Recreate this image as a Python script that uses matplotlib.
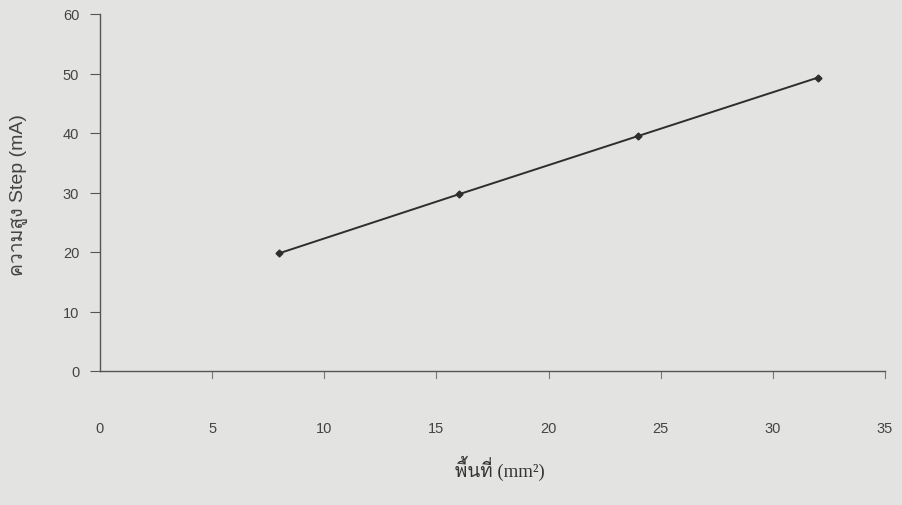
import matplotlib
matplotlib.use("Agg")
import matplotlib.pyplot as plt
from matplotlib import font_manager
from matplotlib.ft2font import FT2Font

area = [8, 16, 24, 32]
step_height = [19.8, 29.7, 39.5, 49.3]
x_ticks = [0, 5, 10, 15, 20, 25, 30, 35]
y_ticks = [0, 10, 20, 30, 40, 50, 60]


def thai_family():
    # find any installed font that can draw Thai
    for f in font_manager.fontManager.ttflist:
        try:
            if 0x0E04 in FT2Font(f.fname).get_charmap():
                return f.name
        except Exception:
            pass
    return None


thai = thai_family()
sans = ["Liberation Sans"] + ([thai] if thai else []) + ["DejaVu Sans"]
serif = ["Liberation Serif"] + ([thai] if thai else []) + ["DejaVu Serif"]

bg = "#e3e3e1"
fig = plt.figure(figsize=(9.02, 5.06), dpi=100, facecolor=bg)
ax = fig.add_axes([100 / 902, 134 / 506, 785 / 902, 357 / 506], facecolor=bg)

ax.plot(area, step_height, color="#2e2e2e", lw=1.4, marker="D", ms=3.5)

ax.set_xlim(0, 35)
ax.set_ylim(0, 60)
ax.set_xticks(x_ticks)
ax.set_yticks(y_ticks)

for side in ["top", "right"]:
    ax.spines[side].set_visible(False)
for side in ["left", "bottom"]:
    ax.spines[side].set_color("#555555")
    ax.spines[side].set_linewidth(1.0)

ax.tick_params(axis="x", direction="in", length=0, pad=36, labelsize=10.5,
               colors="#444444")
ax.tick_params(axis="y", direction="out", length=7, pad=8, labelsize=10.5,
               colors="#444444", color="#555555")
for t in ax.get_xticklabels() + ax.get_yticklabels():
    t.set_family(sans)

# x ticks hang below the axis line
for x in x_ticks[1:]:
    ax.plot([x, x], [0, -1.2], color="#777777", lw=0.8, clip_on=False)

fig.text(18 / 902, 1 - 195 / 506, "ความสูง Step (mA)", rotation=90,
         ha="center", va="center", fontsize=14, color="#444444", family=sans)
fig.text(500 / 902, 1 - 468 / 506, "พื้นที่ (mm²)", ha="center",
         va="center", fontsize=13.5, color="#333333", family=serif)

fig.savefig("out.png", dpi=100, facecolor=bg)
